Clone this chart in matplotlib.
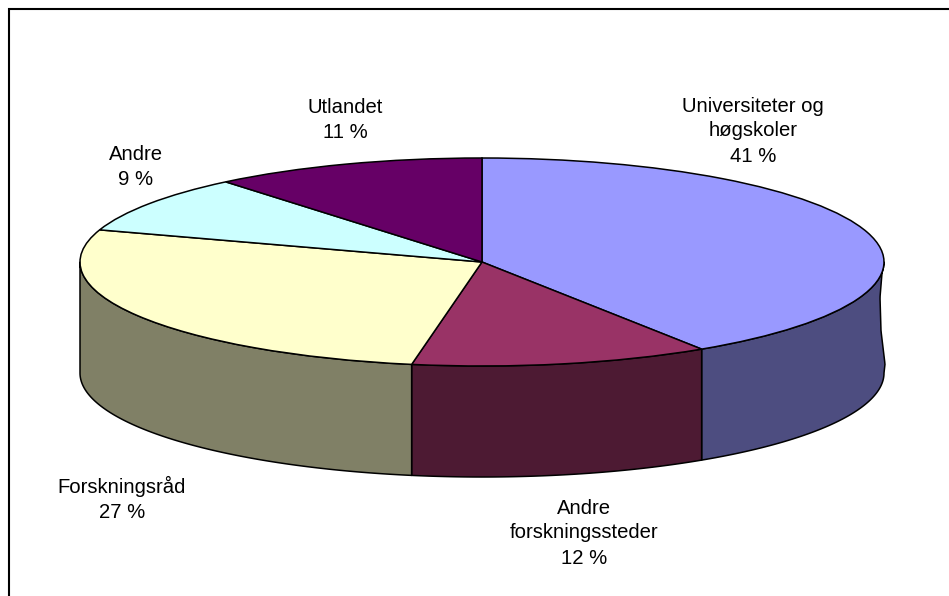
import numpy as np
import matplotlib
matplotlib.use("Agg")
import matplotlib.pyplot as plt

labels = ['Universiteter og\nhøgskoler', 'Andre\nforskningssteder', 'Forskningsråd', 'Andre', 'Utlandet']
values = np.array([40.8, 12.0, 27.2, 9.0, 11.0])  # labels show these rounded
top_colors = ['#9999FF', '#993366', '#FFFFCC', '#CCFFFF', '#660066']
side_colors = ['#4D4D80', '#4D1A33', '#808066', '#668080', '#330033']

W, H = 949, 596
cx, cy = 482, 262     # pie centre in pixels
rx, ry = 402, 104     # ellipse radii
depth = 111 / ry      # wall height in pie units

plt.rcParams['font.family'] = ['Liberation Sans', 'DejaVu Sans']

fig = plt.figure(figsize=(W / 100, H / 100), dpi=100)
ax = fig.add_axes([0, 0, 1, 1])

# side walls first, only the front half is visible (clockwise from top: 90..270 deg)
edges = np.concatenate([[0], np.cumsum(values)]) / values.sum() * 360
for i in range(len(values)):
    a0 = max(edges[i], 90)
    a1 = min(edges[i + 1], 270)
    if a1 <= a0:
        continue
    t = np.radians(np.linspace(a0, a1, 200))
    x = np.sin(t)
    y = np.cos(t)
    xs = np.r_[x, x[::-1]]
    ys = np.r_[y, y[::-1] - depth]
    if i == 0:
        # the right edge of the wall wobbles a little in the original
        s = np.linspace(0, 1, 40)
        wob = np.interp(s, [0, 0.1, 0.32, 0.62, 0.92, 1], [0, -2, -4, -3, 1, 0]) / rx
        xs = np.r_[xs, 1 + wob[::-1]]
        ys = np.r_[ys, -s[::-1] * depth]
    ax.fill(xs, ys, fc=side_colors[i], ec='black', lw=1.1, joinstyle='round')

ax.pie(values, colors=top_colors, startangle=90, counterclock=False, radius=1,
       wedgeprops={'edgecolor': 'black', 'linewidth': 1.1})
ax.set_aspect('auto')
ax.set_xlim(-cx / rx, (W - cx) / rx)
ax.set_ylim((cy - H) / ry, cy / ry)
ax.axis('off')

# data labels, placed by hand like the original
label_pos = [(753, 131), (584, 533), (122, 499), (136, 167), (345, 120)]
for lab, v, (px, py) in zip(labels, values, label_pos):
    ax.text((px - cx) / rx, (cy - py) / ry, f'{lab}\n{v:.0f} %', ha='center', va='center',
            fontsize=14.6, color='black', linespacing=1.4)

# frame: only top and left lines are in the picture
fig.add_artist(plt.Line2D([9 / W, 9 / W, 1], [0, 1 - 9 / H, 1 - 9 / H],
                          color='black', lw=1.5, solid_joinstyle='miter'))

fig.savefig('out.png', dpi=100)
